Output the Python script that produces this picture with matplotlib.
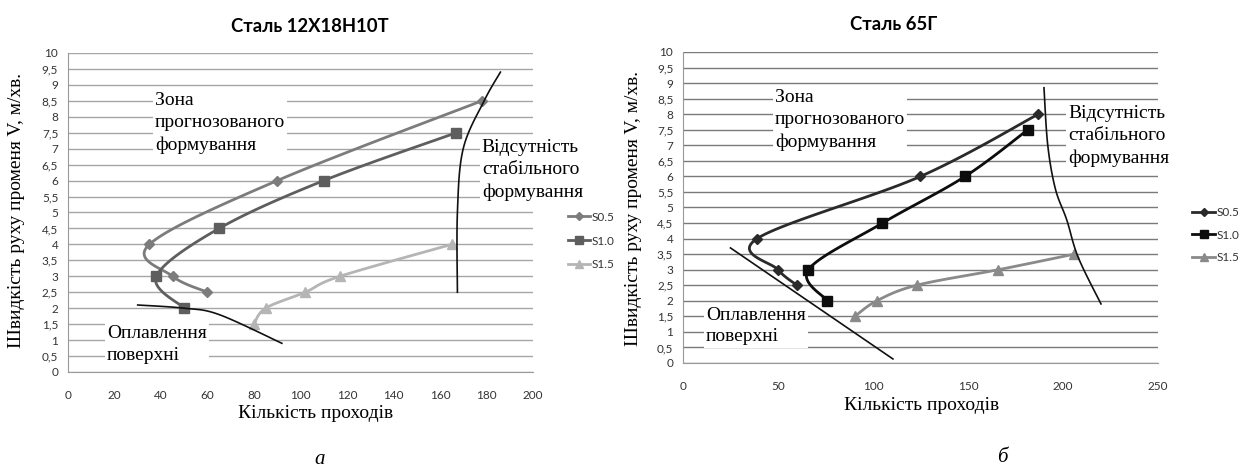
import numpy as np
import matplotlib
matplotlib.use('Agg')
import matplotlib.pyplot as plt

# Дані, зчитані з графіків
series_names = ['S0.5', 'S1.0', 'S1.5']

# Сталь 12Х18Н10Т
steel1_x = [[60, 45, 35, 90, 178],
            [50, 38, 65, 110, 167],
            [80, 85, 102, 117, 165]]
steel1_y = [[2.5, 3, 4, 6, 8.5],
            [2, 3, 4.5, 6, 7.5],
            [1.5, 2, 2.5, 3, 4]]
steel1_melt_x = [30, 50, 65, 92]
steel1_melt_y = [2.1, 2.0, 1.8, 0.9]
steel1_unstable_x = [167.5, 167.5, 170, 179, 186]
steel1_unstable_y = [2.5, 5.0, 7.0, 8.5, 9.4]

# Сталь 65Г
steel2_x = [[60, 50, 39, 125, 187],
            [76, 66, 105, 148.5, 181.5],
            [90.5, 102, 123, 166, 206]]
steel2_y = [[2.5, 3, 4, 6, 8],
            [2, 3, 4.5, 6, 7.5],
            [1.5, 2, 2.5, 3, 3.5]]
steel2_melt_x = [25, 110.5]
steel2_melt_y = [3.7, 0.13]
steel2_unstable_x = [190, 192, 196, 202, 208, 220]
steel2_unstable_y = [8.85, 7.0, 5.6, 4.6, 3.4, 1.9]

y_ticks = np.arange(0, 10.5, 0.5)
y_tick_labels = [('%g' % v).replace('.', ',') for v in y_ticks]

SERIF = 'Liberation Serif'
SANS = 'Lato'


def smooth(x, y, n=24):
    ''' Згладжена лінія як в Excel (кубічні Безьє через точки). '''
    pts = np.column_stack([x, y]).astype(float)
    if len(pts) < 3:
        return pts[:, 0], pts[:, 1]
    out = []
    t = np.linspace(0, 1, n)[:, None]
    for i in range(len(pts) - 1):
        p0 = pts[i - 1] if i > 0 else pts[i]
        p1 = pts[i]
        p2 = pts[i + 1]
        p3 = pts[i + 2] if i + 2 < len(pts) else pts[i + 1]
        c1 = p1 + (p2 - p0) / 6
        c2 = p2 - (p3 - p1) / 6
        seg = ((1 - t) ** 3) * p1 + 3 * ((1 - t) ** 2) * t * c1 + 3 * (1 - t) * t ** 2 * c2 + t ** 3 * p2
        out.append(seg if i == 0 else seg[1:])
    out = np.vstack(out)
    return out[:, 0], out[:, 1]


def setup_axes(ax, xmax, xstep, grid_color):
    ax.set_xlim(0, xmax)
    ax.set_ylim(0, 10)
    ax.set_xticks(np.arange(0, xmax + 1, xstep))
    ax.set_yticks(y_ticks)
    ax.set_yticklabels(y_tick_labels)
    ax.tick_params(length=0, labelsize=8.5, colors='#333333')
    ax.tick_params(axis='y', pad=7)
    ax.tick_params(axis='x', pad=13)
    for lbl in ax.get_xticklabels() + ax.get_yticklabels():
        lbl.set_family(SANS)
    ax.grid(axis='y', color=grid_color, lw=1.0)
    ax.set_axisbelow(True)
    ax.spines['top'].set_visible(False)
    ax.spines['right'].set_visible(False)
    ax.spines['left'].set_color('#999999')
    ax.spines['bottom'].set_color('#999999')


def note(ax, x, y, text):
    ax.text(x, y, text, family=SERIF, fontsize=14, ha='left', va='center',
            linespacing=1.38, clip_on=False, zorder=2,
            bbox=dict(facecolor='white', edgecolor='none', pad=1.5))


fig = plt.figure(figsize=(12.47, 4.71), dpi=100)
ax1 = fig.add_axes([0.0545, 0.2102, 0.3729, 0.6773])
ax2 = fig.add_axes([0.5477, 0.2293, 0.3809, 0.6603])

markers = ['D', 's', '^']
msizes = [5, 7.5, 7]

# --- а) Сталь 12Х18Н10Т
setup_axes(ax1, 200, 20, '#a6a6a6')
colors1 = ['#7c7c7c', '#5e5e5e', '#b5b5b5']
for xs, ys, c, m, ms, name in zip(steel1_x, steel1_y, colors1, markers, msizes, series_names):
    sx, sy = smooth(xs, ys)
    ax1.plot(sx, sy, color=c, lw=2.0, zorder=4)
    ax1.plot(xs, ys, ls='none', marker=m, ms=ms, color=c, zorder=5)
    ax1.plot([], [], color=c, lw=2.0, marker=m, ms=ms * 0.8, label=name)
bx, by = smooth(steel1_melt_x, steel1_melt_y)
ax1.plot(bx, by, color='#111111', lw=1.2, zorder=6)
bx, by = smooth(steel1_unstable_x, steel1_unstable_y)
ax1.plot(bx, by, color='#111111', lw=1.2, zorder=6, clip_on=False)
note(ax1, 37.4, 7.8, 'Зона\nпрогнозованого\nформування')
note(ax1, 16.8, 0.85, 'Оплавлення\nповерхні')
note(ax1, 178, 6.33, 'Відсутність\nстабільного\nформування')
ax1.legend(loc='center left', bbox_to_anchor=(0.4505, 0.4883), bbox_transform=fig.transFigure,
           frameon=False, borderpad=0, handlelength=1.9, handletextpad=0.15, labelspacing=1.1,
           prop={'family': SANS, 'size': 8.5})
for t in ax1.get_legend().get_texts():
    t.set_color('#333333')

# --- б) Сталь 65Г
setup_axes(ax2, 250, 50, '#7a7a7a')
colors2 = ['#2a2a2a', '#0d0d0d', '#8a8a8a']
for xs, ys, c, m, ms, name in zip(steel2_x, steel2_y, colors2, markers, msizes, series_names):
    sx, sy = smooth(xs, ys)
    ax2.plot(sx, sy, color=c, lw=2.0, zorder=4)
    ax2.plot(xs, ys, ls='none', marker=m, ms=ms, color=c, zorder=5)
    ax2.plot([], [], color=c, lw=2.0, marker=m, ms=ms * 0.8, label=name)
ax2.plot(steel2_melt_x, steel2_melt_y, color='#111111', lw=1.2, zorder=6)
bx, by = smooth(steel2_unstable_x, steel2_unstable_y)
ax2.plot(bx, by, color='#111111', lw=1.2, zorder=6)
note(ax2, 48.4, 7.81, 'Зона\nпрогнозованого\nформування')
note(ax2, 12.1, 1.19, 'Оплавлення\nповерхні')
note(ax2, 202.6, 7.3, 'Відсутність\nстабільного\nформування')
ax2.legend(loc='center left', bbox_to_anchor=(0.9515, 0.501), bbox_transform=fig.transFigure,
           frameon=False, borderpad=0, handlelength=1.9, handletextpad=0.15, labelspacing=0.95,
           prop={'family': SANS, 'size': 8.5})
for t in ax2.get_legend().get_texts():
    t.set_color('#333333')

# Заголовки та підписи осей
fig.text(310 / 1247, 1 - 26 / 471, 'Сталь 12Х18Н10Т', family=SANS, fontweight='bold',
         fontsize=13.3, ha='center', va='center')
fig.text(894 / 1247, 1 - 25 / 471, 'Сталь 65Г', family=SANS, fontweight='bold',
         fontsize=13.3, ha='center', va='center')
fig.text(316 / 1247, 1 - 413 / 471, 'Кількість проходів', family=SERIF, fontsize=14,
         ha='center', va='center')
fig.text(922 / 1247, 1 - 405 / 471, 'Кількість проходів', family=SERIF, fontsize=14,
         ha='center', va='center')
fig.text(17 / 1247, 1 - 211 / 471, 'Швидкість руху променя V, м/хв.', family=SERIF,
         fontsize=14, rotation=90, ha='center', va='center')
fig.text(633 / 1247, 1 - 209 / 471, 'Швидкість руху променя V, м/хв.', family=SERIF,
         fontsize=14, rotation=90, ha='center', va='center')
fig.text(320 / 1247, 1 - 460 / 471, 'а', family=SERIF, style='italic', fontsize=15,
         ha='center', va='center')
fig.text(1002 / 1247, 1 - 458 / 471, 'б', family=SERIF, style='italic', fontsize=15,
         ha='center', va='center')

fig.savefig('out.png', dpi=100, facecolor='white')
